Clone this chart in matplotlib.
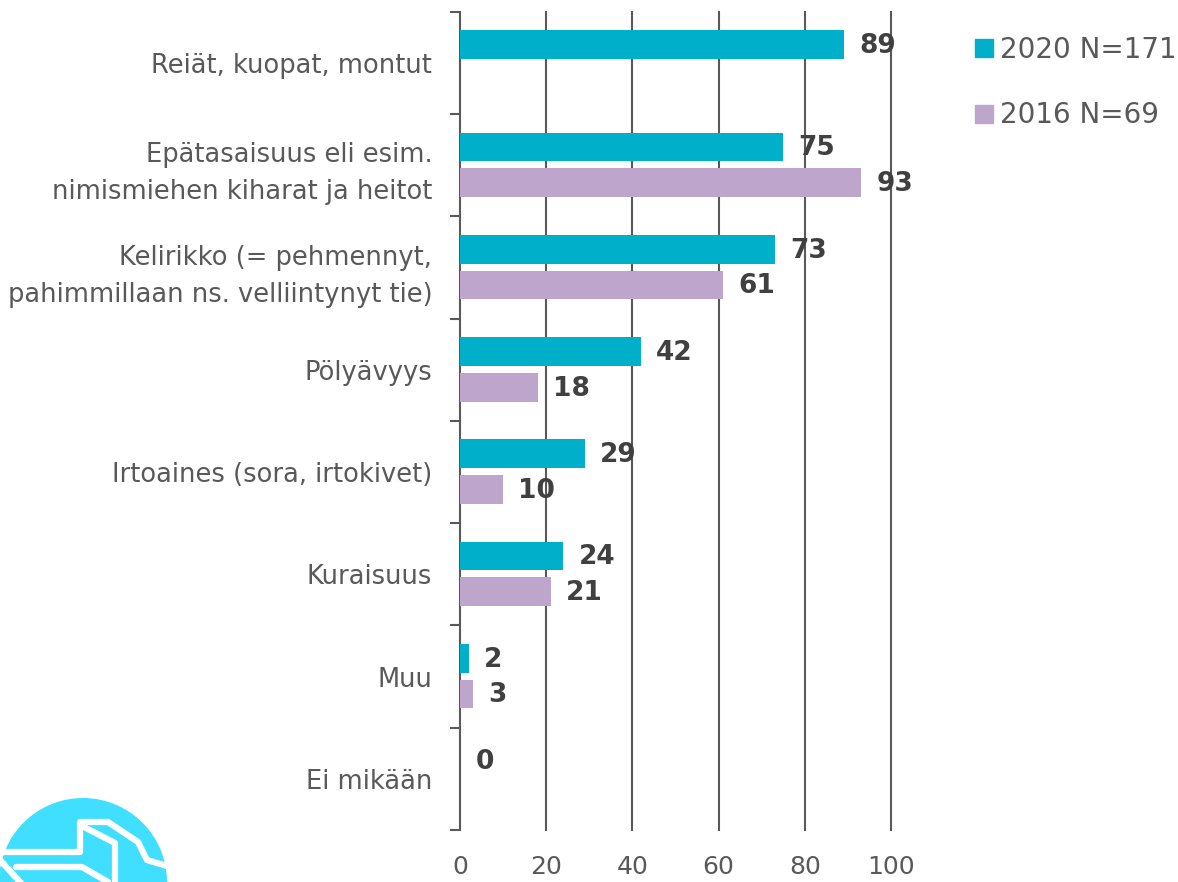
import matplotlib.pyplot as plt
import numpy as np
from matplotlib.lines import Line2D
from matplotlib.patches import Circle

plt.rcParams['font.family'] = ['DejaVu Sans']

categories = [
    'Reiät, kuopat, montut',
    'Epätasaisuus eli esim.\nnimismiehen kiharat ja heitot',
    'Kelirikko (= pehmennyt,\npahimmillaan ns. velliintynyt tie)',
    'Pölyävyys',
    'Irtoaines (sora, irtokivet)',
    'Kuraisuus',
    'Muu',
    'Ei mikään',
]
values_2020 = [89, 75, 73, 42, 29, 24, 2, 0]
values_2016 = [None, 93, 61, 18, 10, 21, 3, None]
series_names = ['2020 N=171', '2016 N=69']
xticks = [0, 20, 40, 60, 80, 100]

c2020 = '#00B0CB'
c2016 = '#BEA5CB'
grey = '#595959'
dark = '#404040'

fig = plt.figure(figsize=(11.78, 8.82), dpi=100)
ax = fig.add_axes([0.3905, 0.059, 0.3659, 0.9274])

y = np.arange(len(categories))
h = 0.28
for i, v in enumerate(values_2020):
    if v is None:
        continue
    ax.barh(y[i] - 0.18, v, height=h, color=c2020, zorder=3)
    ax.annotate(str(v), (v, y[i] - 0.18), xytext=(11, -1), textcoords='offset points',
                va='center', ha='left', fontsize=19, fontweight='bold', color=dark)
for i, v in enumerate(values_2016):
    if v is None:
        continue
    ax.barh(y[i] + 0.17, v, height=h, color=c2016, zorder=3)
    ax.annotate(str(v), (v, y[i] + 0.17), xytext=(11, -1), textcoords='offset points',
                va='center', ha='left', fontsize=19, fontweight='bold', color=dark)

ax.set_xlim(0, 100)
ax.set_ylim(len(categories) - 0.5, -0.5)
ax.set_xticks(xticks)
ax.set_xticklabels([str(t) for t in xticks], fontsize=18, color=grey)
ax.tick_params(axis='x', length=0, pad=18)
for t in xticks[1:]:
    ax.axvline(t, color=grey, lw=1.5, zorder=1, clip_on=False)

ax.set_yticks(y)
ax.set_yticklabels(categories, fontsize=18.5, color=grey, linespacing=1.55)
ax.set_yticks(np.arange(len(categories) + 1) - 0.5, minor=True)
ax.tick_params(axis='y', which='major', length=0, pad=20)
ax.tick_params(axis='y', which='minor', length=7, width=1.5, color=grey)

for s in ['top', 'right', 'bottom']:
    ax.spines[s].set_visible(False)
ax.spines['left'].set_color(grey)
ax.spines['left'].set_linewidth(1.5)

handles = [Line2D([], [], marker='s', ls='', color=c2020, markersize=13),
           Line2D([], [], marker='s', ls='', color=c2016, markersize=13)]
fig.legend(handles, series_names, loc='upper left', bbox_to_anchor=(0.818, 0.972),
           frameon=False, fontsize=20, labelcolor=grey, handlelength=0.7,
           handletextpad=0.2, labelspacing=1.35, borderaxespad=0)

# logo in the corner
logo = fig.add_axes([0, 0, 1, 1], zorder=-1)
logo.set_xlim(0, 1178)
logo.set_ylim(882, 0)
logo.axis('off')
logo.add_patch(Circle((83, 882), 84, color='#40DFFF', lw=0))
lw = 4.5
logo.plot([0, 80, 80, 108, 138, 147, 167], [852, 852, 822, 822, 842, 860, 866],
          color='white', lw=lw, solid_joinstyle='round', solid_capstyle='round')
logo.plot([82, 115, 115], [826, 843, 882], color='white', lw=lw, solid_capstyle='round')
logo.plot([16, 82, 108], [867, 867, 882], color='white', lw=lw, solid_capstyle='round')
logo.plot([0, 20], [860, 882], color='white', lw=lw)

fig.savefig('out.png', dpi=100)
